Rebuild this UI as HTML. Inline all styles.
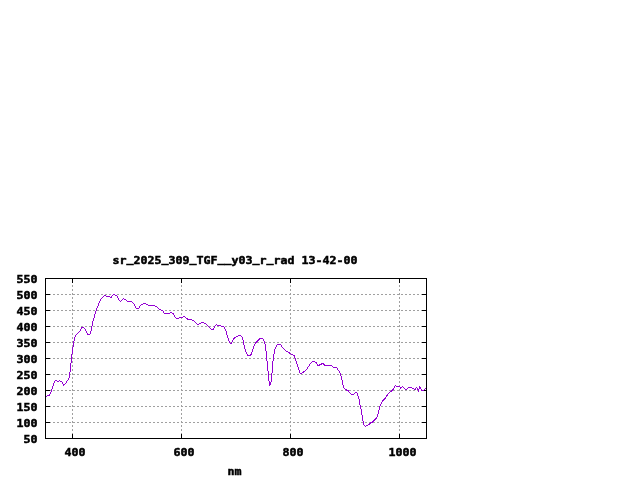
<!DOCTYPE html>
<html lang="en">
<head>
<meta charset="utf-8">
<title>sr_2025_309_TGF__y03_r_rad 13-42-00</title>
<style>
html,body{margin:0;padding:0;background:#fff;}
body{width:640px;height:480px;overflow:hidden;}
svg{display:block;will-change:transform;}
text{font-family:"DejaVu Sans Mono", "Liberation Mono", monospace;font-weight:bold;font-size:11px;letter-spacing:0px;fill:#000;stroke:#000;stroke-width:0.5px;}
</style>
</head>
<body>
<svg width="640" height="480" viewBox="0 0 640 480">
<rect x="0" y="0" width="640" height="480" fill="#ffffff"/>
<g stroke="#a0a0a0" stroke-width="1" fill="none" shape-rendering="crispEdges">
<line x1="49" y1="422.5" x2="426" y2="422.5" stroke-dasharray="2 2"/>
<line x1="49" y1="406.5" x2="426" y2="406.5" stroke-dasharray="2 2"/>
<line x1="49" y1="390.5" x2="426" y2="390.5" stroke-dasharray="2 2"/>
<line x1="49" y1="374.5" x2="426" y2="374.5" stroke-dasharray="2 2"/>
<line x1="49" y1="358.5" x2="426" y2="358.5" stroke-dasharray="2 2"/>
<line x1="49" y1="342.5" x2="426" y2="342.5" stroke-dasharray="2 2"/>
<line x1="49" y1="326.5" x2="426" y2="326.5" stroke-dasharray="2 2"/>
<line x1="49" y1="310.5" x2="426" y2="310.5" stroke-dasharray="2 2"/>
<line x1="49" y1="294.5" x2="426" y2="294.5" stroke-dasharray="2 2"/>
<line x1="72.5" y1="281" x2="72.5" y2="438" stroke-dasharray="2 2"/>
<line x1="181.5" y1="281" x2="181.5" y2="438" stroke-dasharray="2 2"/>
<line x1="290.5" y1="281" x2="290.5" y2="438" stroke-dasharray="2 2"/>
<line x1="399.5" y1="281" x2="399.5" y2="438" stroke-dasharray="2 2"/>
</g>
<g stroke="#000" stroke-width="1" fill="none" shape-rendering="crispEdges">
<rect x="45.5" y="278.5" width="381" height="160"/>
<line x1="46" y1="422.5" x2="50" y2="422.5"/>
<line x1="422" y1="422.5" x2="426" y2="422.5"/>
<line x1="46" y1="406.5" x2="50" y2="406.5"/>
<line x1="422" y1="406.5" x2="426" y2="406.5"/>
<line x1="46" y1="390.5" x2="50" y2="390.5"/>
<line x1="422" y1="390.5" x2="426" y2="390.5"/>
<line x1="46" y1="374.5" x2="50" y2="374.5"/>
<line x1="422" y1="374.5" x2="426" y2="374.5"/>
<line x1="46" y1="358.5" x2="50" y2="358.5"/>
<line x1="422" y1="358.5" x2="426" y2="358.5"/>
<line x1="46" y1="342.5" x2="50" y2="342.5"/>
<line x1="422" y1="342.5" x2="426" y2="342.5"/>
<line x1="46" y1="326.5" x2="50" y2="326.5"/>
<line x1="422" y1="326.5" x2="426" y2="326.5"/>
<line x1="46" y1="310.5" x2="50" y2="310.5"/>
<line x1="422" y1="310.5" x2="426" y2="310.5"/>
<line x1="46" y1="294.5" x2="50" y2="294.5"/>
<line x1="422" y1="294.5" x2="426" y2="294.5"/>
<line x1="72.5" y1="279" x2="72.5" y2="283"/>
<line x1="72.5" y1="434" x2="72.5" y2="438"/>
<line x1="181.5" y1="279" x2="181.5" y2="283"/>
<line x1="181.5" y1="434" x2="181.5" y2="438"/>
<line x1="290.5" y1="279" x2="290.5" y2="283"/>
<line x1="290.5" y1="434" x2="290.5" y2="438"/>
<line x1="399.5" y1="279" x2="399.5" y2="283"/>
<line x1="399.5" y1="434" x2="399.5" y2="438"/>
</g>
<path d="M46 396h1v1h-1zM47 395h1v1h-1zM48 395h1v1h-1zM49 394h1v2h-1zM50 392h1v2h-1zM51 389h1v3h-1zM52 386h1v3h-1zM53 383h1v3h-1zM54 381h1v2h-1zM55 380h1v1h-1zM56 380h1v1h-1zM57 381h1v1h-1zM58 381h1v1h-1zM59 380h1v1h-1zM60 381h1v1h-1zM61 381h1v1h-1zM62 382h1v2h-1zM63 384h1v2h-1zM64 384h1v1h-1zM65 383h1v1h-1zM66 381h1v2h-1zM67 380h1v1h-1zM68 378h1v2h-1zM69 372h1v6h-1zM70 363h1v9h-1zM71 354h1v9h-1zM72 347h1v7h-1zM73 341h1v6h-1zM74 337h1v4h-1zM75 335h1v2h-1zM76 334h1v1h-1zM77 333h1v1h-1zM78 332h1v1h-1zM79 331h1v1h-1zM80 329h1v2h-1zM81 327h1v2h-1zM82 327h1v1h-1zM83 327h1v1h-1zM84 328h1v1h-1zM85 329h1v2h-1zM86 331h1v2h-1zM87 333h1v2h-1zM88 334h1v1h-1zM89 334h1v1h-1zM90 331h1v3h-1zM91 326h1v5h-1zM92 321h1v5h-1zM93 318h1v3h-1zM94 314h1v4h-1zM95 311h1v3h-1zM96 308h1v3h-1zM97 306h1v2h-1zM98 303h1v3h-1zM99 301h1v2h-1zM100 299h1v2h-1zM101 298h1v1h-1zM102 297h1v1h-1zM103 296h1v1h-1zM104 295h1v1h-1zM105 295h1v1h-1zM106 296h1v1h-1zM107 296h1v1h-1zM108 296h1v1h-1zM109 296h1v1h-1zM110 297h1v1h-1zM111 296h1v2h-1zM112 295h1v1h-1zM113 294h1v1h-1zM114 294h1v1h-1zM115 295h1v1h-1zM116 295h1v1h-1zM117 296h1v2h-1zM118 298h1v2h-1zM119 300h1v1h-1zM120 301h1v1h-1zM121 300h1v1h-1zM122 299h1v1h-1zM123 298h1v1h-1zM124 299h1v1h-1zM125 299h1v1h-1zM126 300h1v1h-1zM127 301h1v1h-1zM128 301h1v1h-1zM129 301h1v1h-1zM130 301h1v1h-1zM131 301h1v1h-1zM132 302h1v1h-1zM133 303h1v1h-1zM134 304h1v2h-1zM135 306h1v2h-1zM136 308h1v1h-1zM137 308h1v1h-1zM138 308h1v1h-1zM139 306h1v2h-1zM140 305h1v1h-1zM141 304h1v1h-1zM142 304h1v1h-1zM143 303h1v1h-1zM144 303h1v1h-1zM145 303h1v1h-1zM146 304h1v1h-1zM147 304h1v1h-1zM148 305h1v1h-1zM149 305h1v1h-1zM150 305h1v1h-1zM151 305h1v1h-1zM152 305h1v1h-1zM153 305h1v1h-1zM154 305h1v1h-1zM155 306h1v1h-1zM156 306h1v1h-1zM157 307h1v1h-1zM158 308h1v1h-1zM159 309h1v1h-1zM160 309h1v1h-1zM161 310h1v1h-1zM162 310h1v1h-1zM163 311h1v2h-1zM164 313h1v1h-1zM165 313h1v1h-1zM166 313h1v1h-1zM167 313h1v1h-1zM168 313h1v1h-1zM169 313h1v1h-1zM170 312h1v1h-1zM171 312h1v1h-1zM172 313h1v1h-1zM173 313h1v2h-1zM174 315h1v2h-1zM175 317h1v1h-1zM176 318h1v1h-1zM177 318h1v1h-1zM178 318h1v1h-1zM179 317h1v1h-1zM180 317h1v1h-1zM181 317h1v1h-1zM182 317h1v1h-1zM183 316h1v1h-1zM184 316h1v1h-1zM185 317h1v1h-1zM186 318h1v1h-1zM187 318h1v2h-1zM188 319h1v1h-1zM189 319h1v1h-1zM190 319h1v1h-1zM191 319h1v1h-1zM192 320h1v1h-1zM193 320h1v1h-1zM194 321h1v1h-1zM195 322h1v1h-1zM196 323h1v1h-1zM197 324h1v1h-1zM198 324h1v1h-1zM199 323h1v1h-1zM200 323h1v1h-1zM201 322h1v1h-1zM202 322h1v1h-1zM203 322h1v1h-1zM204 323h1v1h-1zM205 323h1v1h-1zM206 324h1v1h-1zM207 325h1v1h-1zM208 326h1v1h-1zM209 327h1v1h-1zM210 328h1v1h-1zM211 329h1v1h-1zM212 329h1v1h-1zM213 328h1v2h-1zM214 326h1v2h-1zM215 325h1v1h-1zM216 324h1v1h-1zM217 325h1v1h-1zM218 325h1v1h-1zM219 325h1v1h-1zM220 325h1v1h-1zM221 326h1v1h-1zM222 326h1v1h-1zM223 326h1v1h-1zM224 327h1v2h-1zM225 329h1v2h-1zM226 331h1v4h-1zM227 335h1v3h-1zM228 338h1v3h-1zM229 341h1v2h-1zM230 343h1v1h-1zM231 342h1v2h-1zM232 340h1v2h-1zM233 338h1v2h-1zM234 337h1v2h-1zM235 337h1v1h-1zM236 336h1v1h-1zM237 336h1v1h-1zM238 335h1v1h-1zM239 335h1v1h-1zM240 335h1v1h-1zM241 336h1v1h-1zM242 337h1v3h-1zM243 340h1v5h-1zM244 345h1v4h-1zM245 349h1v3h-1zM246 352h1v2h-1zM247 354h1v2h-1zM248 355h1v1h-1zM249 355h1v1h-1zM250 354h1v2h-1zM251 352h1v3h-1zM252 349h1v3h-1zM253 346h1v3h-1zM254 344h1v2h-1zM255 342h1v2h-1zM256 341h1v2h-1zM257 340h1v2h-1zM258 339h1v2h-1zM259 338h1v2h-1zM260 338h1v1h-1zM261 338h1v1h-1zM262 338h1v1h-1zM263 339h1v2h-1zM264 341h1v3h-1zM265 344h1v7h-1zM266 351h1v10h-1zM267 361h1v10h-1zM268 371h1v10h-1zM269 381h1v5h-1zM270 382h1v3h-1zM271 373h1v9h-1zM272 361h1v12h-1zM273 354h1v7h-1zM274 349h1v5h-1zM275 347h1v2h-1zM276 345h1v2h-1zM277 344h1v1h-1zM278 344h1v1h-1zM279 344h1v1h-1zM280 344h1v1h-1zM281 345h1v2h-1zM282 347h1v1h-1zM283 348h1v1h-1zM284 349h1v1h-1zM285 350h1v1h-1zM286 351h1v1h-1zM287 351h1v1h-1zM288 352h1v1h-1zM289 352h1v2h-1zM290 353h1v1h-1zM291 354h1v1h-1zM292 354h1v1h-1zM293 355h1v1h-1zM294 355h1v3h-1zM295 358h1v3h-1zM296 361h1v3h-1zM297 364h1v3h-1zM298 367h1v3h-1zM299 370h1v3h-1zM300 373h1v1h-1zM301 373h1v1h-1zM302 372h1v1h-1zM303 371h1v2h-1zM304 371h1v1h-1zM305 370h1v1h-1zM306 369h1v1h-1zM307 367h1v2h-1zM308 366h1v1h-1zM309 364h1v2h-1zM310 363h1v1h-1zM311 362h1v1h-1zM312 361h1v1h-1zM313 361h1v1h-1zM314 361h1v1h-1zM315 362h1v1h-1zM316 362h1v2h-1zM317 364h1v2h-1zM318 365h1v1h-1zM319 364h1v2h-1zM320 364h1v1h-1zM321 363h1v2h-1zM322 363h1v1h-1zM323 363h1v2h-1zM324 364h1v2h-1zM325 365h1v1h-1zM326 365h1v1h-1zM327 365h1v1h-1zM328 365h1v1h-1zM329 365h1v1h-1zM330 365h1v1h-1zM331 365h1v1h-1zM332 366h1v1h-1zM333 367h1v1h-1zM334 367h1v1h-1zM335 367h1v1h-1zM336 367h1v1h-1zM337 368h1v2h-1zM338 370h1v1h-1zM339 371h1v2h-1zM340 373h1v3h-1zM341 376h1v4h-1zM342 380h1v5h-1zM343 385h1v3h-1zM344 388h1v1h-1zM345 389h1v1h-1zM346 389h1v2h-1zM347 390h1v1h-1zM348 390h1v2h-1zM349 392h1v1h-1zM350 393h1v1h-1zM351 394h1v1h-1zM352 394h1v1h-1zM353 394h1v1h-1zM354 393h1v1h-1zM355 392h1v1h-1zM356 392h1v1h-1zM357 393h1v3h-1zM358 396h1v3h-1zM359 399h1v6h-1zM360 405h1v4h-1zM361 409h1v6h-1zM362 415h1v6h-1zM363 421h1v4h-1zM364 425h1v1h-1zM365 426h1v1h-1zM366 425h1v1h-1zM367 425h1v1h-1zM368 424h1v1h-1zM369 423h1v2h-1zM370 422h1v2h-1zM371 422h1v1h-1zM372 421h1v2h-1zM373 420h1v2h-1zM374 419h1v2h-1zM375 418h1v2h-1zM376 417h1v2h-1zM377 414h1v3h-1zM378 410h1v4h-1zM379 406h1v4h-1zM380 404h1v2h-1zM381 402h1v2h-1zM382 400h1v2h-1zM383 399h1v2h-1zM384 398h1v2h-1zM385 397h1v2h-1zM386 395h1v2h-1zM387 394h1v2h-1zM388 393h1v1h-1zM389 392h1v1h-1zM390 391h1v1h-1zM391 390h1v2h-1zM392 389h1v2h-1zM393 388h1v2h-1zM394 386h1v2h-1zM395 385h1v1h-1zM396 386h1v1h-1zM397 386h1v1h-1zM398 386h1v1h-1zM399 386h1v1h-1zM400 387h1v2h-1zM401 387h1v1h-1zM402 386h1v1h-1zM403 387h1v1h-1zM404 388h1v1h-1zM405 389h1v1h-1zM406 389h1v1h-1zM407 388h1v1h-1zM408 387h1v1h-1zM409 387h1v1h-1zM410 387h1v1h-1zM411 387h1v1h-1zM412 388h1v1h-1zM413 388h1v1h-1zM414 389h1v1h-1zM415 388h1v2h-1zM416 387h1v1h-1zM417 388h1v2h-1zM418 389h1v3h-1zM419 386h1v3h-1zM420 387h1v2h-1zM421 389h1v2h-1zM422 390h1v1h-1zM423 390h1v1h-1zM424 389h1v1h-1zM425 388h1v1h-1z" fill="#9400d3" stroke="none" shape-rendering="crispEdges"/>
<g>
<text x="112.5" y="264" textLength="245" lengthAdjust="spacingAndGlyphs"><tspan dy="0">sr</tspan><tspan dy="-2.4">_</tspan><tspan dy="2.4">2025</tspan><tspan dy="-2.4">_</tspan><tspan dy="2.4">309</tspan><tspan dy="-2.4">_</tspan><tspan dy="2.4">TGF</tspan><tspan dy="-2.4">__</tspan><tspan dy="2.4">y03</tspan><tspan dy="-2.4">_</tspan><tspan dy="2.4">r</tspan><tspan dy="-2.4">_</tspan><tspan dy="2.4">rad 13-42-00</tspan></text>
<text x="23.5" y="443" textLength="14" lengthAdjust="spacingAndGlyphs">50</text>
<text x="16.5" y="427" textLength="21" lengthAdjust="spacingAndGlyphs">100</text>
<text x="16.5" y="411" textLength="21" lengthAdjust="spacingAndGlyphs">150</text>
<text x="16.5" y="395" textLength="21" lengthAdjust="spacingAndGlyphs">200</text>
<text x="16.5" y="379" textLength="21" lengthAdjust="spacingAndGlyphs">250</text>
<text x="16.5" y="363" textLength="21" lengthAdjust="spacingAndGlyphs">300</text>
<text x="16.5" y="347" textLength="21" lengthAdjust="spacingAndGlyphs">350</text>
<text x="16.5" y="331" textLength="21" lengthAdjust="spacingAndGlyphs">400</text>
<text x="16.5" y="315" textLength="21" lengthAdjust="spacingAndGlyphs">450</text>
<text x="16.5" y="299" textLength="21" lengthAdjust="spacingAndGlyphs">500</text>
<text x="16.5" y="283" textLength="21" lengthAdjust="spacingAndGlyphs">550</text>
<text x="64.5" y="456" textLength="21" lengthAdjust="spacingAndGlyphs">400</text>
<text x="173.5" y="456" textLength="21" lengthAdjust="spacingAndGlyphs">600</text>
<text x="282.5" y="456" textLength="21" lengthAdjust="spacingAndGlyphs">800</text>
<text x="388.5" y="456" textLength="28" lengthAdjust="spacingAndGlyphs">1000</text>
<text x="227.5" y="475" textLength="14" lengthAdjust="spacingAndGlyphs">nm</text>
</g>
</svg>
</body>
</html>
